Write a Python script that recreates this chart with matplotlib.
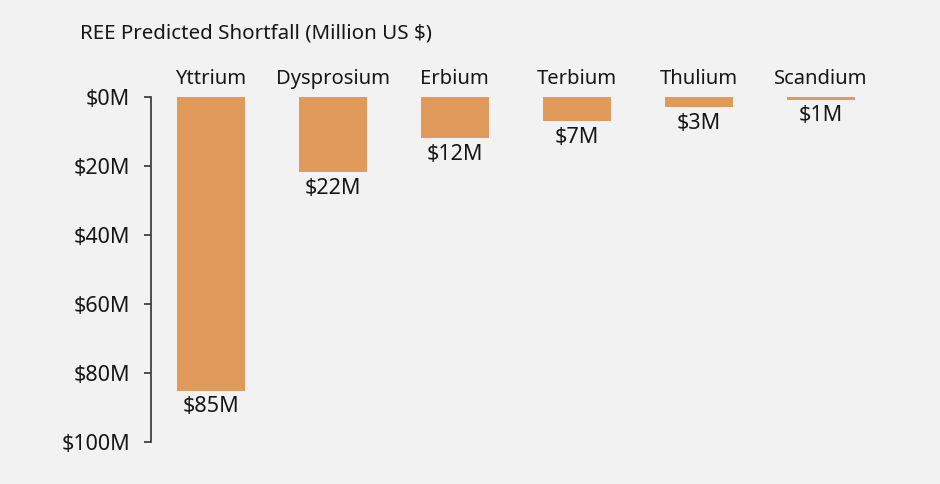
import matplotlib
matplotlib.use("Agg")
import matplotlib.pyplot as plt

elements = ["Yttrium", "Dysprosium", "Erbium", "Terbium", "Thulium", "Scandium"]
shortfall = [85.2, 21.8, 11.9, 7.0, 2.9, 0.8]
value_labels = ["$85M", "$22M", "$12M", "$7M", "$3M", "$1M"]
y_ticks = [0, 20, 40, 60, 80, 100]
y_tick_labels = ["$0M", "$20M", "$40M", "$60M", "$80M", "$100M"]
title = "REE Predicted Shortfall (Million US $)"

bg = "#f2f2f2"
bar_color = "#e09b5c"
text_color = "#161616"

plt.rcParams["font.family"] = ["Noto Sans", "DejaVu Sans"]

fig = plt.figure(figsize=(9.4, 4.84), dpi=100, facecolor=bg)
ax = fig.add_axes([151/940, 1-442/484, 731/940, 345/484], facecolor=bg)

x = list(range(len(elements)))
ax.bar(x, shortfall, width=0.557, color=bar_color)
ax.set_xlim(-0.49, 5.5)
ax.set_ylim(100, 0)

for xi, v, lab in zip(x, shortfall, value_labels):
    ax.annotate(lab, (xi, v), xytext=(0, -4), textcoords="offset points",
                ha="center", va="top", fontsize=15.5, color=text_color)

ax.xaxis.tick_top()
ax.set_xticks(x)
ax.set_xticklabels(elements, fontsize=14.5, color=text_color)
ax.tick_params(axis="x", length=0, pad=6)

ax.set_yticks(y_ticks)
ax.set_yticklabels(y_tick_labels, fontsize=15.5, color=text_color)
ax.tick_params(axis="y", length=5, width=1.2, color="#333333", pad=10)

for s in ["top", "right", "bottom"]:
    ax.spines[s].set_visible(False)
ax.spines["left"].set_color("#333333")
ax.spines["left"].set_linewidth(1.2)

fig.text(80/940, 1-34/484, title, fontsize=14.8, color=text_color, ha="left", va="center")

fig.savefig("out.png", dpi=100, facecolor=bg)
